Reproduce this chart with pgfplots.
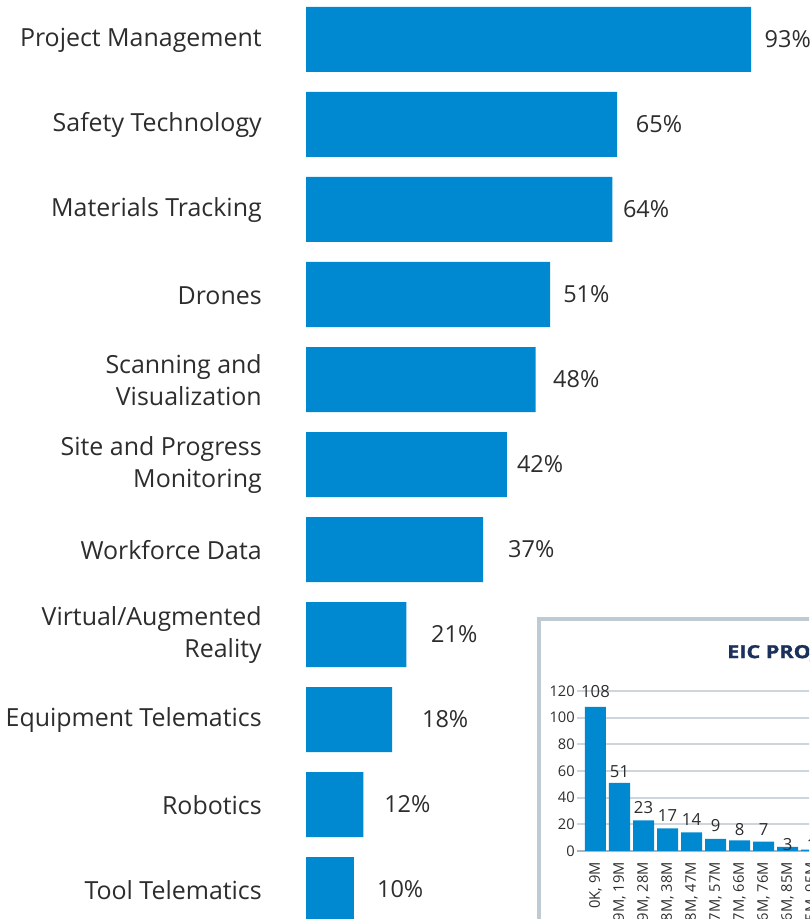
\documentclass[border=0pt]{standalone}
\usepackage{pgfplots}
\pgfplotsset{compat=1.18}
\usepackage{fontspec}
\setmainfont{Open Sans}
\newfontfamily\titlefont[FakeStretch=1.2, FakeBold=1.3]{Open Sans}
\definecolor{barblue}{RGB}{0,137,208}
\definecolor{txt}{RGB}{45,45,45}
\definecolor{navy}{RGB}{28,48,92}
\definecolor{framec}{RGB}{192,202,210}
\definecolor{gridc}{RGB}{205,214,221}
\definecolor{axisc}{RGB}{170,180,190}
\begin{document}
\begin{tikzpicture}[x=0.75pt,y=0.75pt]
\path[use as bounding box, clip] (0,0) rectangle (809,919);
\fill[white] (0,0) rectangle (809,919);
\begin{axis}[
  at={(229.5pt,-9.75pt)}, anchor=south west,
  scale only axis, width=394.8pt, height=701.25pt,
  xmin=0, xmax=110, ymin=-0.5, ymax=10.5, y dir=reverse,
  enlargelimits=false,
  /pgf/number format/assume math mode=true,
  hide x axis,
  axis y line*=left, y axis line style={draw=none},
  major tick length=0pt,
  ytick={0,...,10},
  yticklabels={Project Management, Safety Technology, Materials Tracking, Drones, {Scanning and\\Visualization}, {Site and Progress\\Monitoring}, Workforce Data, {Virtual/Augmented\\Reality}, Equipment Telematics, Robotics, Tool Telematics},
  yticklabel style={align=right, anchor=east, inner sep=0pt, xshift=-33pt, yshift=-0.6pt, text=txt, font=\fontsize{18.7}{24}\selectfont},
  clip=false,
]
\addplot[xbar, fill=barblue, draw=none, bar width=48.75pt] coordinates {
(93,0) (65,1) (64,2) (51,3) (48,4) (42,5) (37,6) (21,7) (18,8) (12,9) (10,10)};
\addplot[draw=none, mark=none, nodes near coords={\pgfmathprintnumber{\pgfplotspointmeta}\%}, point meta=explicit,
  nodes near coords style={anchor=west, inner sep=0pt, text=txt, font=\fontsize{17.6}{20}\selectfont}]
table[meta=v] {
x y v
95.8 0 93
68.9 1 65
66.2 2 64
53.7 3 51
51.6 4 48
44.05 5 42
42.2 6 37
26.1 7 21
24.2 8 18
16.3 9 12
14.8 10 10
};
\end{axis}
\fill[white] (538.5,299.5) rectangle (900,-50);
\draw[framec, line width=3] (538.5,299.5) rectangle (900,-50);
\node[anchor=west, inner sep=0pt, text=navy, font=\titlefont\bfseries\fontsize{13.5}{16}\selectfont] at (727,265.5) {EIC PROJECTS BY SIZE};
\begin{axis}[
  at={(432.75pt,51pt)}, anchor=south west,
  scale only axis, width=229.9pt, height=120pt,
  xmin=-0.77, xmax=12, ymin=0, ymax=120,
  enlargelimits=false,
  /pgf/number format/assume math mode=true,
  axis x line*=bottom, axis y line*=left,
  x axis line style={-, axisc, line width=2pt},
  y axis line style={draw=none},
  major tick length=0pt,
  ytick={0,20,...,120},
  ymajorgrids, grid style={gridc, line width=1.4pt},
  yticklabel style={anchor=east, inner sep=0pt, xshift=-1.5pt, text=txt, font=\fontsize{11}{13}\selectfont},
  xtick={0,...,9},
  xticklabels={{0K, 9M},{9M, 19M},{19M, 28M},{28M, 38M},{38M, 47M},{47M, 57M},{57M, 66M},{66M, 76M},{76M, 85M},{85M, 95M}},
  xticklabel style={yshift=-8.25pt, rotate=90, anchor=east, inner sep=0pt, text=txt, font=\fontsize{11}{13}\selectfont},
  clip=false,
]
\addplot[ybar, fill=barblue, draw=none, bar width=15.75pt] coordinates {
(0,108) (1,51) (2,23) (3,17) (4,14) (5,9) (6,8) (7,7) (8,3) (9,1)};
\addplot[draw=none, mark=none, nodes near coords={\pgfmathprintnumber{\pgfplotspointmeta}}, point meta=explicit,
  nodes near coords style={anchor=center, inner sep=0pt, text=txt, font=\fontsize{12.5}{15}\selectfont}]
table[meta=v] {
x y v
0 119.25 108
1 59.5 51
2 32.25 23
3 26.25 17
4 23.25 14
5 19 9
6 15.75 8
7 15.75 7
8 4.5 3
9 4.5 1
};
\end{axis}
\end{tikzpicture}
\end{document}
